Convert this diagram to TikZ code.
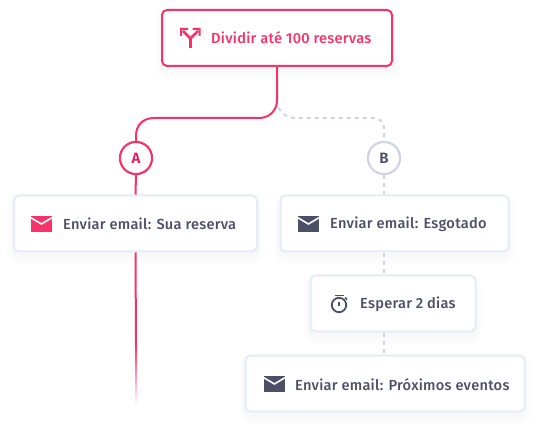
\documentclass[tikz,border=0pt]{standalone}
\usepackage{fontspec}
\setmainfont{Fira Sans}[UprightFont=* Medium,BoldFont=* SemiBold,LetterSpace=1.75]
\usetikzlibrary{calc}
\definecolor{pk}{HTML}{F5326A}
\definecolor{pkd}{HTML}{E8185C}
\definecolor{ink}{HTML}{4B5068}
\definecolor{edge}{HTML}{E4EBFA}
\definecolor{dsh}{HTML}{CFD4E4}
\tikzset{
  boxbase/.style={rectangle,rounded corners=5pt,line width=2pt,fill=white,inner sep=0pt,
    preaction={draw=ink,draw opacity=0.008,line width=14pt,transform canvas={yshift=-6pt}},
    preaction={draw=ink,draw opacity=0.008,line width=9pt,transform canvas={yshift=-5pt}},
    preaction={draw=ink,draw opacity=0.01,line width=5pt,transform canvas={yshift=-4pt}}},
  plainbox/.style={boxbase,draw=edge},
  pinkbox/.style={boxbase,draw=pk},
  lbl/.style={anchor=west,inner sep=0pt,font=\fontsize{14.6}{16}\selectfont,text=ink},
  pinkline/.style={draw=pk,line width=2pt},
  dashline/.style={draw=dsh,line width=2pt,dash pattern=on 4pt off 4pt},
  badge/.style={circle,line width=2pt,minimum size=32pt,inner sep=0pt,fill=white,font=\fontsize{15}{16}\selectfont\bfseries},
}
\newcommand{\envelope}[3]{% x y colour
  \fill[#3] (#1,#2) rectangle ++(21,16);
  \draw[white,line width=1.6pt] (#1-0.5,#2+1.5) -- ++(10.9,6.5) -- ++(10.9,-6.5);
}
\begin{document}
\begin{tikzpicture}[x=1pt,y=-1pt]
\useasboundingbox (0,0) rectangle (538,430);
\fill[white] (0,0) rectangle (538,430);
\coordinate (fork) at (277,100);
\coordinate (fadestart) at (136,345);
\coordinate (fadeend) at (136,405);
\node[badge,draw=pk,text=pkd] (A) at (136,158) {A};
\node[badge,draw=dsh,text=ink] (B) at (384,158) {B};
\node[pinkbox,minimum width=230pt,minimum height=56pt] (top) at (277,38) {};
\node[plainbox,minimum width=243pt,minimum height=56pt] (a1) at (135.5,223.5) {};
\node[plainbox,minimum width=228pt,minimum height=56pt] (b1) at (394.5,223.5) {};
\node[plainbox,minimum width=165pt,minimum height=56pt] (b2) at (393,303.5) {};
\node[plainbox,minimum width=279pt,minimum height=56pt] (b3) at (385,383.5) {};
\draw[dashline] (fork) .. controls (277,110) and (285,118) .. (295,118) -- (372,118) .. controls (380,118) and (384,122) .. (384,128) -- (B.north);
\draw[dashline] (B.south) -- (384,194);
\draw[dashline] (384,253) -- (384,274);
\draw[dashline] (384,333) -- (384,354);
\draw[pinkline] (top.south) -- (fork) .. controls (277,111) and (269,118) .. (259,118) -- (154,118) .. controls (143,118) and (136,125) .. (136,136) -- (A.north);
\draw[pinkline] (A.south) -- (a1.north);
\draw[pinkline] (a1.south) -- (fadestart);
\shade[top color=pk,bottom color=white] ($(fadestart)+(-1,0)$) rectangle ($(fadeend)+(1,0)$);
\node[badge,draw=pk,text=pkd] at (A) {A};
\node[badge,draw=dsh,text=ink] at (B) {B};
\node[lbl,text=pk] (t0) at (211,38) {Dividir até 100 reservas};
\node[lbl] (t1) at (63,224) {Enviar email: Sua reserva};
\node[lbl] (t2) at (330,224) {Enviar email: Esgotado};
\node[lbl] (t3) at (360,304) {Esperar 2 dias};
\node[lbl] (t4) at (295,384.5) {Enviar email: Próximos eventos};
\envelope{31}{216}{pk}
\envelope{298}{216}{ink}
\envelope{264}{376}{ink}
% fork icon
\draw[pk,line width=2.6pt] (190.5,48) -- (190.5,38.5) -- (183,31);
\draw[pk,line width=2.6pt] (190.5,38.5) -- (198,31);
\fill[pk] (180,28) -- (188,28) -- (188,30) -- (182,30) -- (182,36) -- (180,36) -- cycle;
\fill[pk] (200.5,28) -- (192.5,28) -- (192.5,30) -- (198.5,30) -- (198.5,36) -- (200.5,36) -- cycle;
% timer icon
\draw[ink,line width=1.8pt] (339,305) circle (7.2pt);
\draw[ink,line width=1.8pt] (334.5,295.5) -- (343.5,295.5);
\draw[ink,line width=1.5pt] (339,302) -- (339,306);
\draw[ink,line width=1.5pt] (345,297.5) -- (347,299.5);
\end{tikzpicture}
\end{document}
